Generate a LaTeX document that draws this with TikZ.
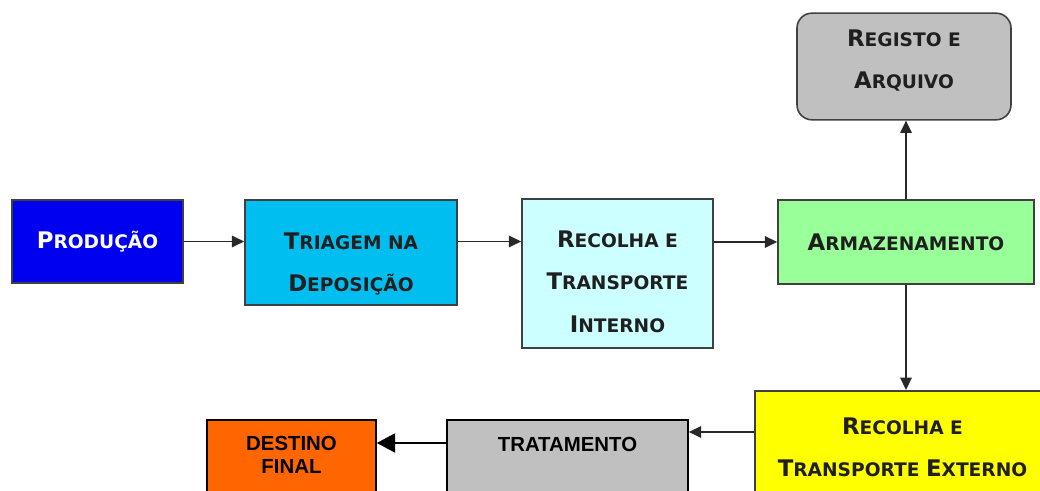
\documentclass[tikz,border=0pt]{standalone}
\usepackage{fontspec}
\setmainfont{DejaVu Sans}
\newfontfamily\arialfont{Liberation Sans}
\usetikzlibrary{arrows.meta, positioning, calc}

\definecolor{prodblue}{RGB}{0, 0, 240}
\definecolor{triagcyan}{RGB}{0, 191, 240}
\definecolor{recintcyan}{RGB}{204, 255, 255}
\definecolor{armazgreen}{RGB}{153, 255, 153}
\definecolor{regigray}{RGB}{192, 192, 192}
\definecolor{recextyellow}{RGB}{255, 255, 0}
\definecolor{destorange}{RGB}{255, 102, 0}
\definecolor{edgegray}{RGB}{64, 64, 64}
\definecolor{arrowgray}{RGB}{40, 40, 40}

% capital letter followed by small capitals
\newcommand{\capword}[2]{{\fontsize{13}{24}\selectfont #1}{\fontsize{10.6}{24}\selectfont #2}}

\begin{document}
\begin{tikzpicture}[
  flowbox/.style={draw=edgegray, line width=0.9pt, font=\fontsize{10.6}{24}\selectfont\bfseries, text=black!88, align=center, inner sep=0pt},
  cutbox/.style={flowbox, draw=black, anchor=north, font=\arialfont\fontsize{11.6}{13.6}\selectfont\bfseries, text=black, text depth=3cm},
  flowarrow/.style={draw=arrowgray, line width=1pt, -{Triangle[length=7pt, width=6.5pt]}}
]
  \useasboundingbox (0,0) rectangle (20.8,9.82);
  \clip (0,0) rectangle (20.8,9.82);

  % Main row
  \node[flowbox, fill=prodblue, text=white, minimum width=3.42cm, minimum height=1.66cm] (prod) at (1.95, 4.99) {\capword{P}{RODUÇÃO}};
  \node[flowbox, fill=triagcyan, minimum width=4.24cm, text height=51.8pt, text depth=7.7pt] (triagem) at (7.02, 4.77) {\capword{T}{RIAGEM NA}\\\capword{D}{EPOSIÇÃO}};
  \node[flowbox, fill=recintcyan, minimum width=3.82cm, text height=75.6pt, text depth=8.9pt] (recint) at (12.35, 4.35) {\capword{R}{ECOLHA E}\\\capword{T}{RANSPORTE}\\\capword{I}{NTERNO}};
  \node[flowbox, fill=armazgreen, minimum width=5.12cm, minimum height=1.68cm] (armaz) at (18.12, 4.98) {\capword{A}{RMAZENAMENTO}};

  % Top
  \node[flowbox, fill=regigray, rounded corners=0.3cm, minimum width=4.28cm, text height=42.7pt, text depth=18pt] (registo) at (18.08, 8.49) {\capword{R}{EGISTO E}\\\capword{A}{RQUIVO}};

  % Bottom row (cut by the frame)
  \node[flowbox, fill=recextyellow, anchor=north, minimum width=5.9cm, text height=48.9pt, text depth=3cm] (recext) at (18.05, 2.02) {\capword{R}{ECOLHA E}\\\capword{T}{RANSPORTE} \capword{E}{XTERNO}};
  \node[cutbox, fill=regigray, minimum width=4.82cm, text height=17.8pt] (trat) at (11.35, 1.44) {TRATAMENTO};
  \node[cutbox, fill=destorange, minimum width=3.38cm, text height=30.8pt] (destino) at (5.83, 1.44) {DESTINO\\FINAL};

  % Arrows
  \draw[flowarrow] (prod.east) -- (prod.east -| triagem.west);
  \draw[flowarrow] (prod.east -| triagem.east) -- (prod.east -| recint.west);
  \draw[flowarrow] (armaz.west -| recint.east) -- (armaz.west);
  \draw[flowarrow] (armaz.north) -- (armaz.north |- registo.south);
  \draw[flowarrow] (armaz.south) -- (armaz.south |- recext.north);
  \draw[flowarrow] ([yshift=-0.84cm]recext.north west) -- ([yshift=-0.26cm]trat.north east);
  \draw[line width=0.8pt, -{Triangle[length=10.5pt, width=11pt]}] ([yshift=-0.48cm]trat.north west) -- ([yshift=-0.48cm]destino.north east);
\end{tikzpicture}
\end{document}
